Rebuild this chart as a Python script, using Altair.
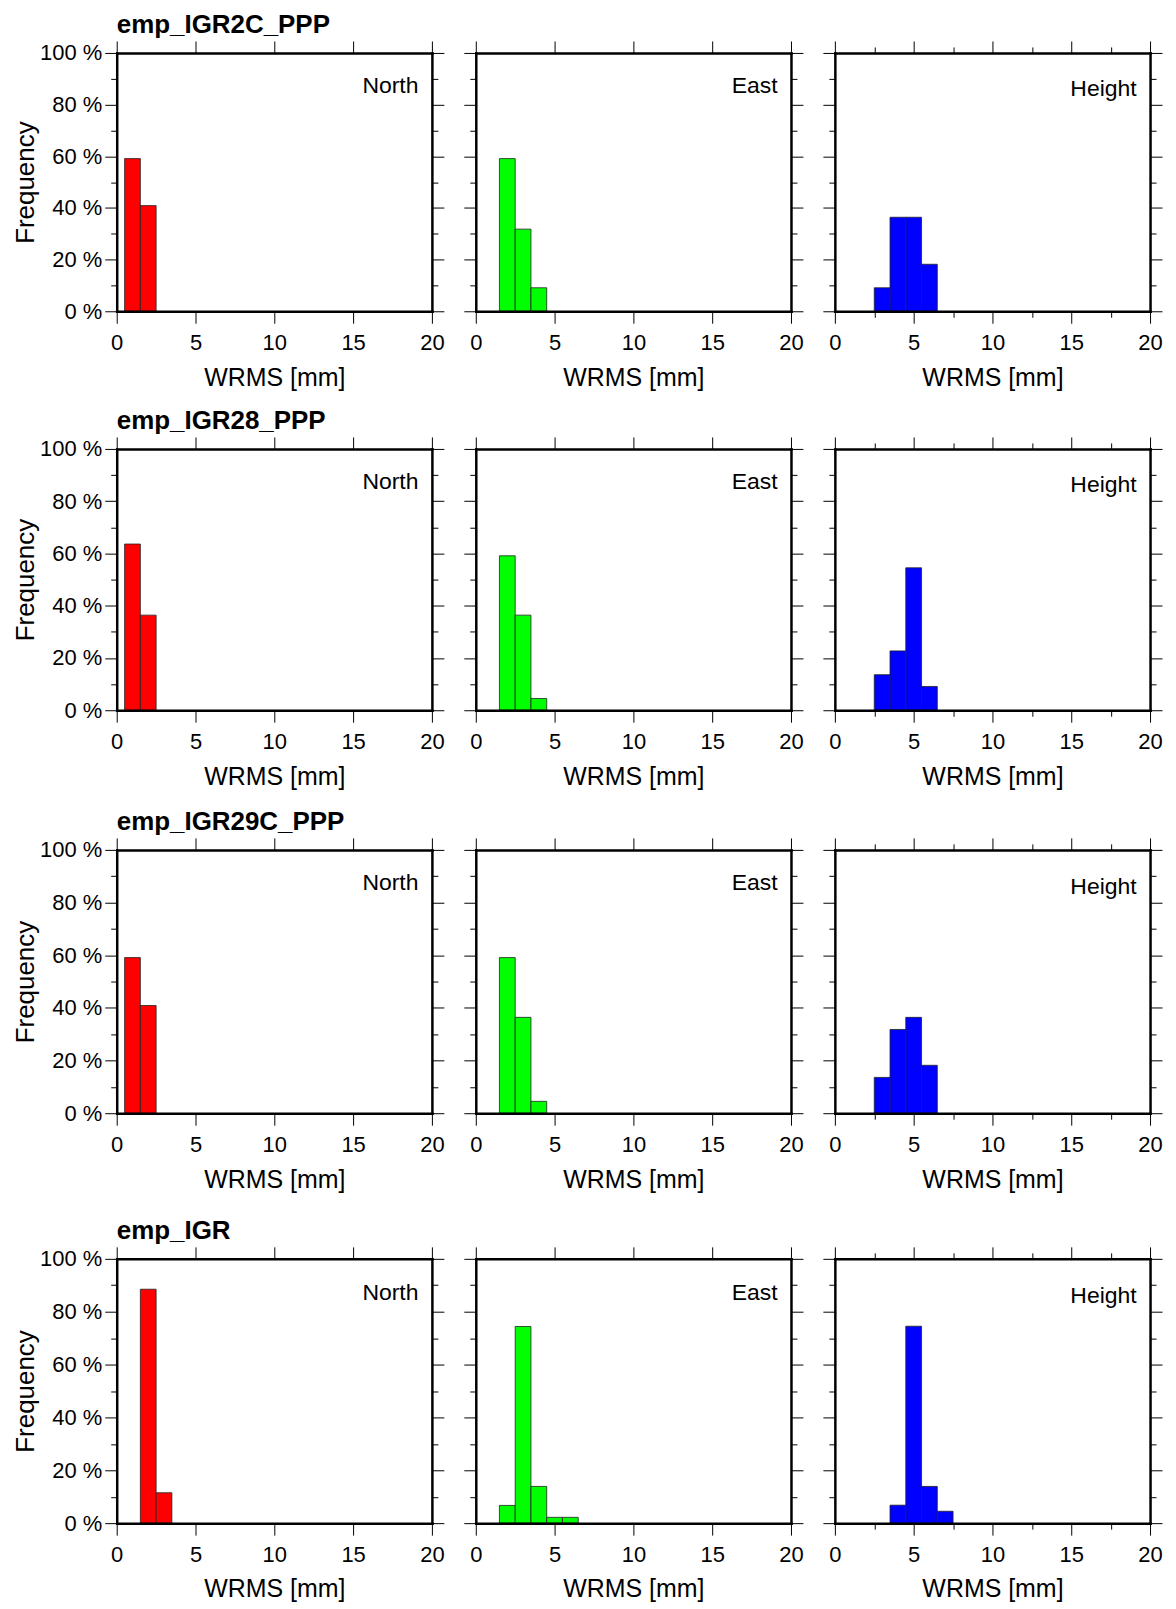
import altair as alt
import pandas as pd

datasets = ["emp_IGR2C_PPP", "emp_IGR28_PPP", "emp_IGR29C_PPP", "emp_IGR"]
components = ["North", "East", "Height"]
comp_colors = ["#ff0000", "#00ff00", "#0000ff"]

# bin centres [mm] (bins are 1 mm wide) and frequency [%]
igr2c_north_bins = [1, 2]
igr2c_north_freq = [59.1, 40.9]
igr2c_east_bins = [2, 3, 4]
igr2c_east_freq = [59.1, 31.8, 9.1]
igr2c_height_bins = [3, 4, 5, 6]
igr2c_height_freq = [9.1, 36.4, 36.4, 18.2]

igr28_north_bins = [1, 2]
igr28_north_freq = [63.6, 36.4]
igr28_east_bins = [2, 3, 4]
igr28_east_freq = [59.1, 36.4, 4.5]
igr28_height_bins = [3, 4, 5, 6]
igr28_height_freq = [13.6, 22.7, 54.5, 9.1]

igr29c_north_bins = [1, 2]
igr29c_north_freq = [59.1, 40.9]
igr29c_east_bins = [2, 3, 4]
igr29c_east_freq = [59.1, 36.4, 4.5]
igr29c_height_bins = [3, 4, 5, 6]
igr29c_height_freq = [13.6, 31.8, 36.4, 18.2]

igr_north_bins = [2, 3]
igr_north_freq = [88.5, 11.5]
igr_east_bins = [2, 3, 4, 5, 6]
igr_east_freq = [6.7, 74.4, 13.9, 2.2, 2.2]
igr_height_bins = [4, 5, 6, 7]
igr_height_freq = [6.8, 74.5, 13.9, 4.5]

x_major = [0, 5, 10, 15, 20]
x_minor = [2.5, 7.5, 12.5, 17.5]
y_major = [0, 20, 40, 60, 80, 100]
y_minor = [10, 30, 50, 70, 90]

table = [
    [(igr2c_north_bins, igr2c_north_freq), (igr2c_east_bins, igr2c_east_freq), (igr2c_height_bins, igr2c_height_freq)],
    [(igr28_north_bins, igr28_north_freq), (igr28_east_bins, igr28_east_freq), (igr28_height_bins, igr28_height_freq)],
    [(igr29c_north_bins, igr29c_north_freq), (igr29c_east_bins, igr29c_east_freq), (igr29c_height_bins, igr29c_height_freq)],
    [(igr_north_bins, igr_north_freq), (igr_east_bins, igr_east_freq), (igr_height_bins, igr_height_freq)],
]

FONT = "Liberation Sans"
W = 316
row_heights = [259, 262, 264, 265]
MAJ = 12
MIN = 6

xscale = alt.Scale(domain=[0, 20], nice=False, zero=False)
yscale = alt.Scale(domain=[0, 100], nice=False, zero=True)


def ax(orient, values, size, domain=False, **kw):
    opts = dict(orient=orient, values=values, tickSize=size, tickWidth=1, tickColor="black",
                grid=False, domain=domain, zindex=1, labelFlush=False, labelOverlap=False,
                labelColor="black", labelFont=FONT, titleColor="black", titleFont=FONT,
                titleFontWeight="normal")
    if domain:
        opts.update(domainColor="black", domainWidth=2.5, domainCap="square")
    if "labels" not in kw:
        opts["labels"] = False
    if "title" not in kw:
        opts["title"] = None
    opts.update(kw)
    return alt.Axis(**opts)


def panel(r, c):
    bins, freq = table[r][c]
    h = row_heights[r]
    df = pd.DataFrame({"center": bins, "freq": freq})
    df["x0"] = df["center"] - 0.5
    df["x1"] = df["center"] + 0.5
    base = alt.Chart(df)

    bottom = ax("bottom", x_major, MAJ, domain=True, labels=True, labelFontSize=22, labelPadding=9,
                title="WRMS [mm]", titleFontSize=25, titleY=74, titleX=W / 2,
                titleBaseline="alphabetic", titleAlign="center")
    if c == 0:
        left = ax("left", y_major, MAJ, domain=True, labels=True, labelFontSize=22, labelPadding=3,
                  labelExpr="datum.value + ' %'", title="Frequency", titleFontSize=26,
                  titleAngle=270, titleX=-83.7, titleY=h / 2, titleBaseline="alphabetic",
                  titleAlign="center")
    else:
        left = ax("left", y_major, MAJ, domain=True)

    bars = base.mark_rect(color=comp_colors[c], stroke="#222222", strokeWidth=0.8).encode(
        x=alt.X("x0:Q", scale=xscale, axis=bottom),
        x2="x1:Q",
        y=alt.Y("freq:Q", scale=yscale, axis=left),
        y2=alt.datum(0),
    )
    frame2 = base.mark_rect(opacity=0).encode(
        x=alt.X("x0:Q", scale=xscale, axis=ax("top", x_major, MAJ, domain=True)),
        x2="x1:Q",
        y=alt.Y("freq:Q", scale=yscale, axis=ax("right", y_major, MAJ, domain=True)),
        y2=alt.datum(0),
    )
    if c == 2:
        xb = alt.X("x0:Q", scale=xscale, axis=ax("bottom", x_minor, MIN))
        xt = alt.X("x0:Q", scale=xscale, axis=ax("top", x_minor, MIN))
    else:
        xb = alt.X("x0:Q", scale=xscale, axis=None)
        xt = alt.X("x0:Q", scale=xscale, axis=None)
    minor1 = base.mark_rect(opacity=0).encode(
        x=xb, x2="x1:Q",
        y=alt.Y("freq:Q", scale=yscale, axis=ax("left", y_minor, MIN)),
        y2=alt.datum(0),
    )
    minor2 = base.mark_rect(opacity=0).encode(
        x=xt, x2="x1:Q",
        y=alt.Y("freq:Q", scale=yscale, axis=ax("right", y_minor, MIN)),
        y2=alt.datum(0),
    )
    label_y = 83.4 if c == 2 else 84.6
    label = alt.Chart(pd.DataFrame({"label": [components[c]]})).mark_text(
        align="right", baseline="alphabetic", font=FONT, fontSize=23, color="black"
    ).encode(
        x=alt.XDatum(19.15, scale=xscale, axis=None),
        y=alt.YDatum(label_y, scale=yscale, axis=None),
        text="label:N",
    )
    ch = alt.layer(bars, frame2, minor1, minor2, label).resolve_axis(
        x="independent", y="independent"
    ).properties(width=W, height=h)
    if c == 0:
        ch = ch.properties(title=alt.TitleParams(
            text=datasets[r], anchor="start", frame="group", font=FONT, fontSize=26,
            fontWeight="bold", baseline="alphabetic", offset=-19, color="black"))
    return ch


rows = [alt.hconcat(*[panel(r, c) for c in range(3)], spacing=18) for r in range(4)]

chart = alt.vconcat(
    rows[0],
    alt.vconcat(rows[1], alt.vconcat(rows[2], rows[3], spacing=25), spacing=19),
    spacing=17,
).properties(
    padding={"left": 3, "top": 2, "right": 5, "bottom": 0}
).configure_view(stroke=None).configure(font=FONT)

chart.save("out.html", embed_options={"renderer": "svg", "actions": False})
